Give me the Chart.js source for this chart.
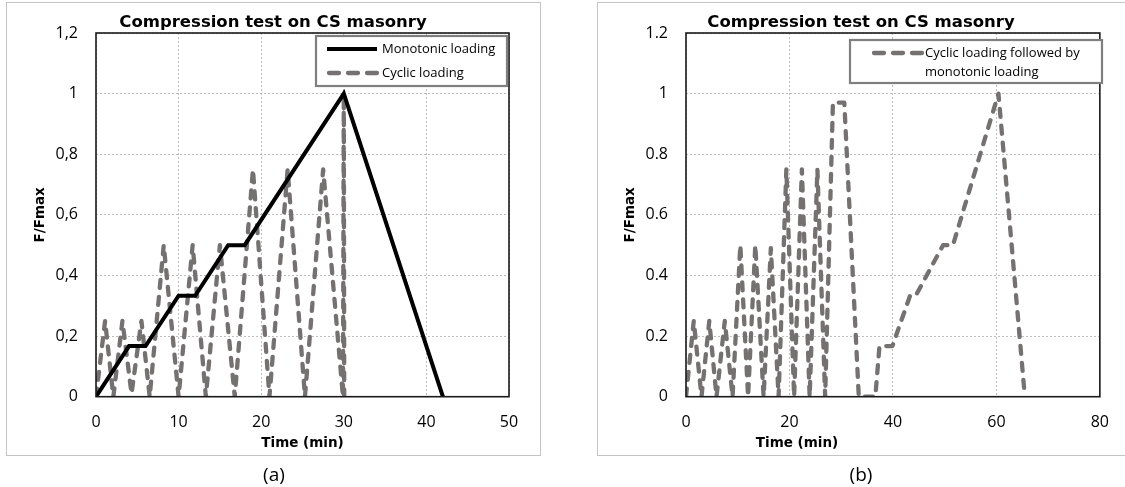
<!DOCTYPE html>
<html><head><meta charset="utf-8">
<script src="https://cdn.jsdelivr.net/npm/chart.js@4.4.0/dist/chart.umd.min.js"></script>
<style>
html,body{margin:0;padding:0;background:#fff;}
body{width:1125px;height:487px;position:relative;overflow:hidden;}
.frame{position:absolute;border:1.5px solid #c4c4c4;box-sizing:border-box;}
.cap{position:absolute;font-family:'Open Sans',sans-serif;font-size:19px;color:#000;transform:translateX(-50%);line-height:26px;}
.box{position:absolute;top:0;height:487px;}
</style></head><body>
<div class="frame" style="left:6px;top:2px;width:535px;height:454px"></div>
<div class="frame" style="left:597px;top:2px;width:540px;height:454px"></div>
<div class="box" style="left:0;width:546px"><canvas id="c1"></canvas></div>
<div class="box" style="left:597px;width:528px"><canvas id="c2"></canvas></div>
<div class="cap" id="capA" style="left:274px;top:461px"></div>
<div class="cap" id="capB" style="left:861px;top:461px"></div>
<script>
// ---- text ----
const panelLabels = ['(a)', '(b)'];
const chartTitle = 'Compression test on CS masonry';
const xAxisTitle = 'Time (min)';
const yAxisTitle = 'F/Fmax';
const monoLabel = 'Monotonic loading';
const cyclicLabel = 'Cyclic loading';
const cyclicMonoLines = ['Cyclic loading followed by', 'monotonic loading'];

// ---- tick labels ----
const xTicksA = ['0', '10', '20', '30', '40', '50'];
const yTicksA = ['0', '0,2', '0,4', '0,6', '0,8', '1', '1,2'];
const xTicksB = ['0', '20', '40', '60', '80'];
const yTicksB = ['0', '0.2', '0.4', '0.6', '0.8', '1', '1.2'];

// ---- data (a) ----
const monoTime = [0, 4, 6, 10, 12, 16, 18, 30, 42];
const monoF    = [0, 0.167, 0.167, 0.333, 0.333, 0.5, 0.5, 1.0, 0];
const cyclicTime = [0, 1.1, 2.1, 3.2, 4.3, 5.5, 6.5, 8.2, 10.0, 11.7, 13.3, 15.0, 16.8, 19.0, 21.0, 23.2, 25.3, 27.5, 29.9, 30.0, 30.05];
const cyclicF    = [0, 0.25, 0, 0.25, 0.01, 0.25, 0, 0.5, 0, 0.5, 0, 0.5, 0, 0.75, 0, 0.75, 0, 0.75, 0, 1.0, 0];

// ---- data (b) ----
const cycMonoTime = [0, 1.5, 3.0, 4.5, 5.9, 7.5, 9.0, 10.5, 12.0, 13.4, 15.0, 16.4, 17.9, 19.4, 20.9, 22.4, 23.9, 25.4, 26.9, 28.4, 30.6, 33.4, 36.6, 37.4, 39.9, 43.3, 44.4, 49.7, 51.6, 60.4, 65.4];
const cycMonoF    = [0, 0.25, 0, 0.25, 0, 0.25, 0, 0.5, 0, 0.5, 0, 0.49, 0, 0.75, 0, 0.75, 0, 0.75, 0, 0.97, 0.97, 0, 0, 0.167, 0.167, 0.333, 0.333, 0.5, 0.5, 1.0, 0.02];

document.getElementById('capA').textContent = panelLabels[0];
document.getElementById('capB').textContent = panelLabels[1];

const GRAY = '#767171';
const toXY = (xs, ys) => xs.map((x, i) => ({x: x, y: ys[i]}));
const tickFont = {family: 'Open Sans', size: 16};
const axisTitleFont = {family: 'DejaVu Sans', size: 13.5, weight: 'bold'};
const titleFont = {family: 'DejaVu Sans', size: 16.5, weight: 'bold', lineHeight: 1.0};

const plotFrame = {
  id: 'plotFrame',
  afterDraw(chart) {
    const {left, top, right, bottom} = chart.chartArea;
    const ctx = chart.ctx;
    ctx.save();
    ctx.strokeStyle = '#1a1a1a';
    ctx.lineWidth = 1.6;
    ctx.strokeRect(left, top, right - left, bottom - top);
    ctx.restore();
  }
};

const legendBox = {
  id: 'legendBox',
  afterDraw(chart, args, o) {
    const ctx = chart.ctx;
    ctx.save();
    ctx.fillStyle = '#fff';
    ctx.fillRect(o.box.x, o.box.y, o.box.w, o.box.h);
    ctx.strokeStyle = '#7f7f7f';
    ctx.lineWidth = 2.2;
    ctx.strokeRect(o.box.x, o.box.y, o.box.w, o.box.h);
    o.items.forEach(it => {
      const ds = chart.data.datasets[it.dataset];
      ctx.beginPath();
      ctx.strokeStyle = ds.borderColor;
      ctx.lineWidth = ds.borderWidth;
      ctx.lineCap = it.dash ? 'round' : 'butt';
      ctx.setLineDash(it.dash || []);
      ctx.moveTo(it.x1, it.y);
      ctx.lineTo(it.x2, it.y);
      ctx.stroke();
      ctx.setLineDash([]);
      ctx.fillStyle = '#000';
      ctx.font = '13px "Open Sans"';
      ctx.textBaseline = 'middle';
      ctx.textAlign = 'left';
      it.lines.forEach((ln, k) => ctx.fillText(ln, it.tx, it.y + k * it.lineGap));
    });
    ctx.restore();
  }
};

const freeXTitle = {
  id: 'freeXTitle',
  afterDraw(chart, args, o) {
    if (!o || !o.text) return;
    const ctx = chart.ctx;
    ctx.save();
    ctx.fillStyle = '#000';
    ctx.font = 'bold 13.5px "DejaVu Sans"';
    ctx.textAlign = 'center';
    ctx.textBaseline = 'middle';
    ctx.fillText(o.text, o.x, o.y);
    ctx.restore();
  }
};

function scalesFor(xMax, xStep, xLabels, yLabels, yWidth, padRight, yTitlePad, showXTitle) {
  return {
    x: {
      type: 'linear', min: 0, max: xMax,
      ticks: {stepSize: xStep, autoSkip: false, maxRotation: 0, font: tickFont, color: '#000', padding: 16,
              callback: (v, i) => xLabels[i]},
      grid: {color: '#bdbdbd', lineWidth: 1, drawTicks: false},
      border: {display: false, dash: [2, 2]},
      title: {display: showXTitle, text: xAxisTitle, font: axisTitleFont, color: '#000', padding: {top: 0, bottom: 35.9}},
      afterFit: s => { s.height = 487 - 396.7; }
    },
    y: {
      type: 'linear', min: 0, max: 1.2,
      ticks: {stepSize: 0.2, autoSkip: false, font: tickFont, color: '#000', padding: 18,
              callback: (v, i) => yLabels[i]},
      grid: {color: '#bdbdbd', lineWidth: 1, drawTicks: false},
      border: {display: false, dash: [2, 2]},
      title: {display: true, text: yAxisTitle, font: axisTitleFont, color: '#000', padding: {top: yTitlePad, bottom: 0}},
      afterFit: s => { s.width = yWidth; }
    },
    yPad: {
      type: 'linear', position: 'right', display: true,
      grid: {display: false}, ticks: {display: false}, border: {display: false},
      afterFit: s => { s.width = padRight; }
    }
  };
}

const commonPlugins = (legendOpts, freeTitle) => ({
  legend: {display: false},
  tooltip: {enabled: false},
  title: {display: true, text: chartTitle, font: titleFont, color: '#000', padding: {top: 14.75, bottom: 1.75}},
  legendBox: legendOpts,
  freeXTitle: freeTitle
});

new Chart(document.getElementById('c1'), {
  type: 'line',
  data: {datasets: [
    {label: monoLabel, data: toXY(monoTime, monoF), borderColor: '#000', borderWidth: 4,
     pointRadius: 0, tension: 0, borderJoinStyle: 'miter', fill: false},
    {label: cyclicLabel, data: toXY(cyclicTime, cyclicF), borderColor: GRAY, borderWidth: 4.3,
     borderDash: [8, 9], borderCapStyle: 'round', borderJoinStyle: 'round', pointRadius: 0, tension: 0, fill: false}
  ]},
  options: {
    responsive: true, maintainAspectRatio: false, animation: false, devicePixelRatio: 1,
    layout: {padding: 0},
    plugins: commonPlugins({
      box: {x: 316, y: 36, w: 191, h: 50},
      items: [
        {dataset: 0, x1: 327, x2: 377, y: 49, tx: 382, lines: [monoLabel], lineGap: 0},
        {dataset: 1, x1: 329, x2: 377, y: 73, tx: 382, lines: [cyclicLabel], lineGap: 0, dash: [10, 9]}
      ]
    }, null),
    scales: scalesFor(50, 10, xTicksA, yTicksA, 96, 37, 31.9, true)
  },
  plugins: [plotFrame, legendBox, freeXTitle]
});

new Chart(document.getElementById('c2'), {
  type: 'line',
  data: {datasets: [
    {label: cyclicMonoLines.join(' '), data: toXY(cycMonoTime, cycMonoF), borderColor: GRAY, borderWidth: 4.3,
     borderDash: [8, 9], borderCapStyle: 'round', borderJoinStyle: 'round', pointRadius: 0, tension: 0, fill: false}
  ]},
  options: {
    responsive: true, maintainAspectRatio: false, animation: false, devicePixelRatio: 1,
    layout: {padding: 0},
    plugins: commonPlugins({
      box: {x: 253, y: 40, w: 252, h: 43},
      items: [
        {dataset: 0, x1: 277, x2: 325, y: 53, tx: 328, lines: cyclicMonoLines, lineGap: 19, dash: [10, 9]}
      ]
    }, {text: xAxisTitle, x: 200, y: 443}),
    scales: scalesFor(80, 20, xTicksB, yTicksB, 89, 22.3, 24.9, false)
  },
  plugins: [plotFrame, legendBox, freeXTitle]
});
</script>
</body></html>
